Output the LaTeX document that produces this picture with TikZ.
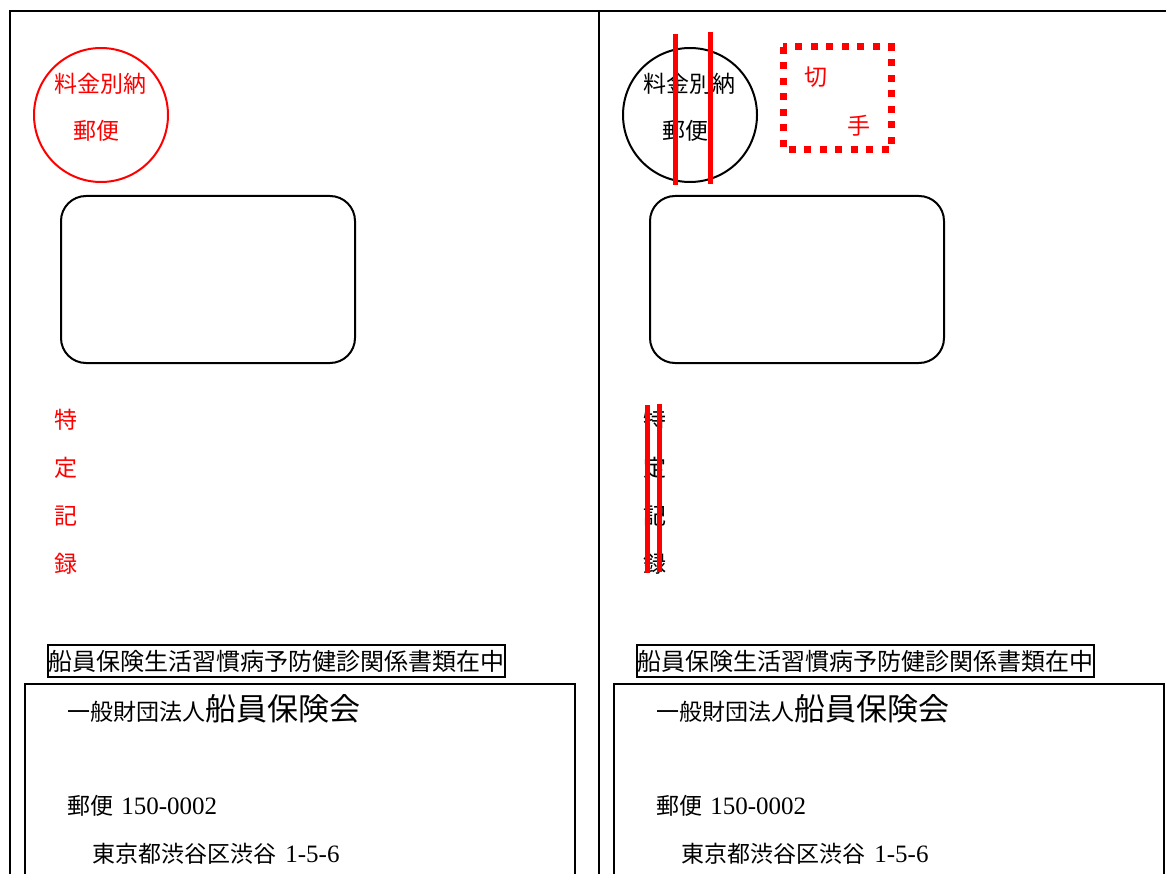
\documentclass[tikz,border=0pt]{standalone}
\usepackage{fontspec}
\newfontfamily\jpfont{Noto Sans CJK JP}
\newfontfamily\digitfont{Liberation Serif}
\usepackage{tikz}
\usetikzlibrary{positioning}
\newcommand{\num}[1]{{\digitfont\fontsize{25}{25}\selectfont #1}}
\tikzset{%
	frame/.style = {line width = 2pt},
	post/.style = {name = #1, circle, draw, line width = 2pt, minimum size = 134pt, inner sep = 0pt},
	window/.style = {draw, line width = 2pt, rounded corners = 25pt},
	jp/.style = {font = \jpfont\fontsize{23}{23}\selectfont, inner sep = 0pt},
	notebox/.style = {draw, line width = 1.5pt, font = \jpfont\fontsize{24}{24}\selectfont, inner xsep = 0.5pt, inner ysep = 4pt, text height = 21pt, text depth = 3pt},
	strike/.style = {red, line width = 5pt},
	stamp/.style = {red, line width = 7pt, dash pattern = on 7pt off 8.5pt}
}
\begin{document}
\begin{tikzpicture}[x=1pt, y=-1pt]
	\useasboundingbox (0,0) rectangle (1166,874);
	% envelope edges
	\draw [frame] (10,874) -- (10,11) -- (1166,11);
	\draw [frame] (599,11) -- (599,874);
	% left side
	\node [post = lpost, red] at (101,115) {};
	\node [jp, red] (lpostA) at (100,84) {料金別納};
	\node [jp, red] (lpostB) at (96,131) {郵便};
	\draw [window] (61,196) rectangle (355,363);
	\foreach \c [count=\i] in {特,定,記,録}
		\node [jp, red] (lrec\i) at (66,372+48*\i) {\c};
	\node [notebox] (lnote) at (276.5,661) {船員保険生活習慣病予防健診関係書類在中};
	\draw [frame] (25,874) -- (25,684) -- (575,684) -- (575,874);
	\node [jp, anchor = west] (lname) at (67,709) {一般財団法人{\fontsize{31}{31}\selectfont 船員保険会}};
	\node [jp, anchor = base west] (lzip) at (67,814) {郵便\hspace{0.35em}\num{150-0002}};
	\node [jp, anchor = base west] (laddr) at (92,862) {東京都渋谷区渋谷\hspace{0.4em}\num{1-5-6}};
	% right side
	\node [post = rpost] at (690,115) {};
	\node [jp] (rpostA) at (689,84) {料金別納};
	\node [jp] (rpostB) at (685,131) {郵便};
	\draw [strike] (675,34) -- (675,185);
	\draw [strike] (710,32) -- (710,184);
	\draw [stamp] (783,47) rectangle (891,150);
	\node [jp, red] (rstampA) at (816,77) {切};
	\node [jp, red] (rstampB) at (859,126) {手};
	\draw [window] (650,196) rectangle (944,363);
	\foreach \c [count=\i] in {特,定,記,録}
		\node [jp] (rrec\i) at (655,372+48*\i) {\c};
	\draw [strike] (647,405) -- (647,573);
	\draw [strike] (659,404) -- (659,572);
	\node [notebox] (rnote) at (865.5,661) {船員保険生活習慣病予防健診関係書類在中};
	\draw [frame] (614,874) -- (614,684) -- (1164,684) -- (1164,874);
	\node [jp, anchor = west] (rname) at (656,709) {一般財団法人{\fontsize{31}{31}\selectfont 船員保険会}};
	\node [jp, anchor = base west] (rzip) at (656,814) {郵便\hspace{0.35em}\num{150-0002}};
	\node [jp, anchor = base west] (raddr) at (681,862) {東京都渋谷区渋谷\hspace{0.4em}\num{1-5-6}};
\end{tikzpicture}
\end{document}
